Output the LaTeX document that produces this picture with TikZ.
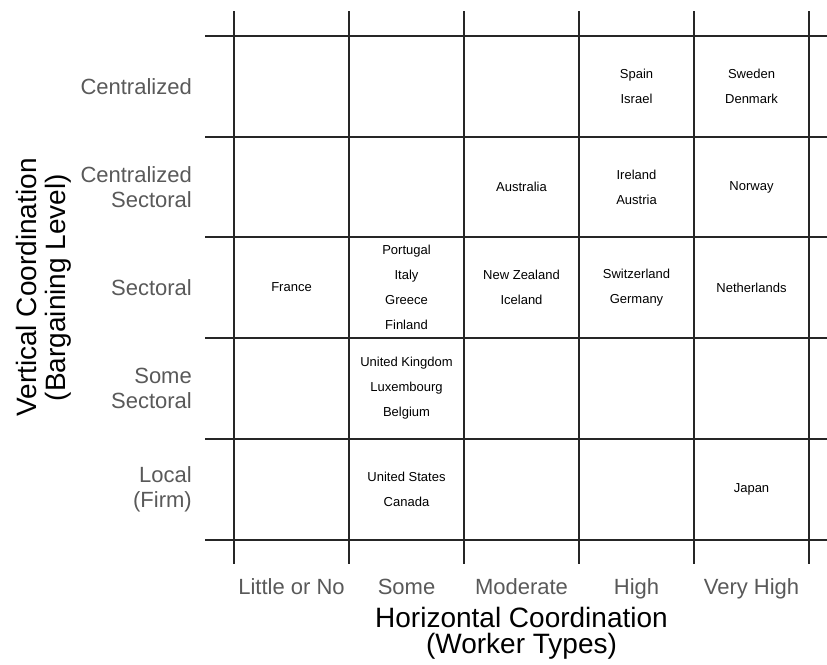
\documentclass[tikz,border=0pt]{standalone}
\usepackage{fontspec}
\setmainfont{Liberation Sans}
\usetikzlibrary{positioning}

\begin{document}
\begin{tikzpicture}[
    x=1pt, y=-1pt,
    gridline/.style={line width=1.2pt, black!85},
    level/.style={text=black!65, font=\fontsize{22}{25}\selectfont, align=right, anchor=east, inner sep=0pt},
    kind/.style={text=black!65, font=\fontsize{22}{25}\selectfont, anchor=base, inner sep=0pt},
    country/.style={font=\fontsize{13}{25}\selectfont, align=center, inner sep=0pt},
    axistitle/.style={font=\fontsize{28}{26}\selectfont, align=center, inner sep=0pt},
  ]
  \useasboundingbox (0,0) rectangle (827,664);

  % grid
  \foreach \x in {234,349,464,579,694,809}
    \draw[gridline] (\x,11) -- (\x,564);
  \foreach \y in {36,137,237,338,439,540}
    \draw[gridline] (205,\y) -- (827,\y);

  % bargaining levels
  \node[level] (cen) at (192,86.5) {Centralized};
  \node[level] (csec) at (192,187) {Centralized\\Sectoral};
  \node[level] (sec) at (192,287.5) {Sectoral};
  \node[level] (ssec) at (192,388) {Some\\Sectoral};
  \node[level] (loc) at (192,489) {Local\\(Firm)};

  % worker types
  \node[kind] (none) at (291.5,594) {Little or No};
  \node[kind] (some) at (406.5,594) {Some};
  \node[kind] (mod) at (521.5,594) {Moderate};
  \node[kind] (high) at (636.5,594) {High};
  \node[kind] (vhigh) at (751.5,594) {Very High};

  % axis titles
  \node[axistitle] (htitle) at (521.5,633) {Horizontal Coordination\\(Worker Types)};
  \node[axistitle, rotate=90, font=\fontsize{28}{29}\selectfont] (vtitle) at (44,287.5) {Vertical Coordination\\(Bargaining Level)};

  % countries
  \node[country] (cen-high) at (636.5,86.5) {Spain\\Israel};
  \node[country] (cen-vhigh) at (751.5,86.5) {Sweden\\Denmark};
  \node[country] (csec-mod) at (521.5,187) {Australia};
  \node[country] (csec-high) at (636.5,187) {Ireland\\Austria};
  \node[country] (csec-vhigh) at (751.5,187) {Norway};
  \node[country] (sec-none) at (291.5,287.5) {France};
  \node[country] (sec-some) at (406.5,287.5) {Portugal\\Italy\\Greece\\Finland};
  \node[country] (sec-mod) at (521.5,287.5) {New Zealand\\Iceland};
  \node[country] (sec-high) at (636.5,287.5) {Switzerland\\Germany};
  \node[country] (sec-vhigh) at (751.5,287.5) {Netherlands};
  \node[country] (ssec-some) at (406.5,388) {United Kingdom\\Luxembourg\\Belgium};
  \node[country] (loc-some) at (406.5,489) {United States\\Canada};
  \node[country] (loc-vhigh) at (751.5,489) {Japan};
\end{tikzpicture}
\end{document}
